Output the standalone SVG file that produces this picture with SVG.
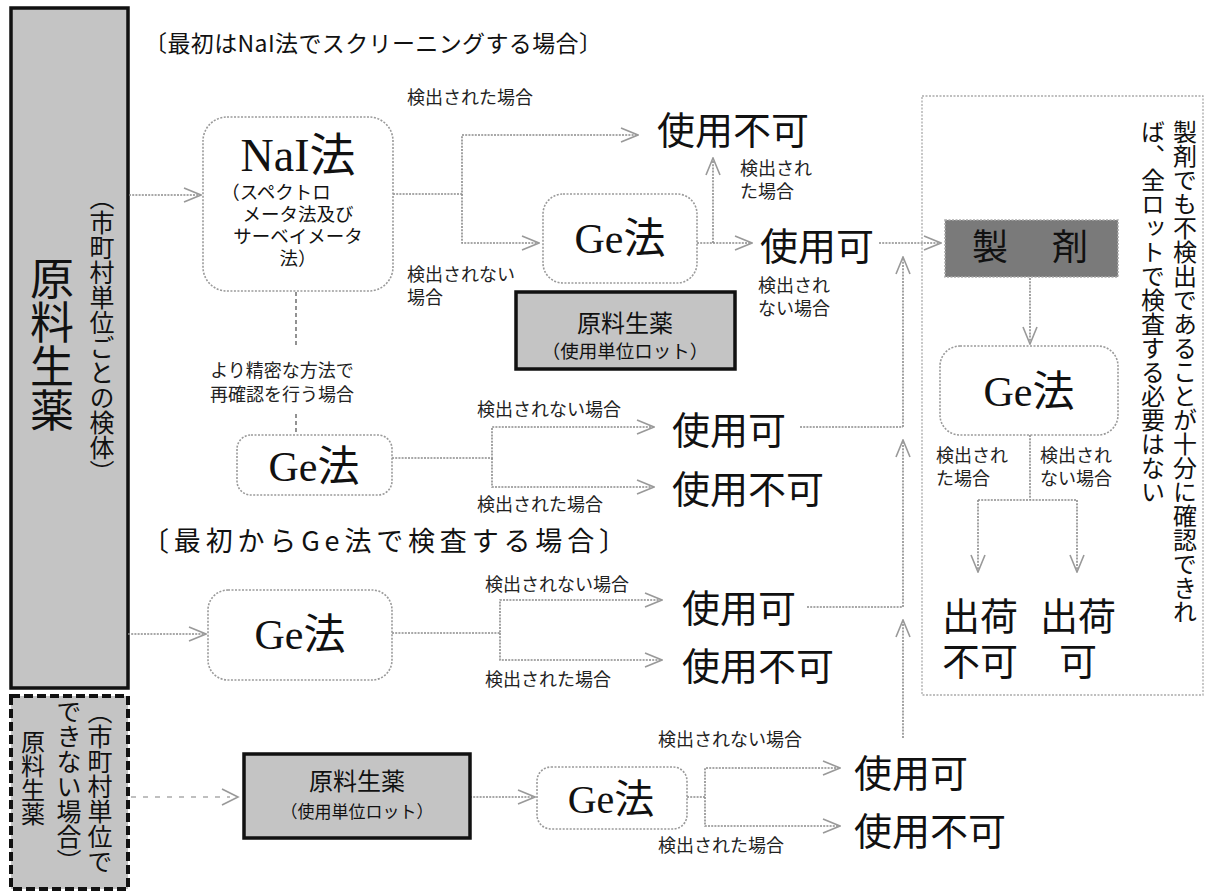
<svg xmlns="http://www.w3.org/2000/svg" width="1206" height="892" viewBox="0 0 1206 892">
<style>
.jp{font-family:"Noto Sans CJK JP","Noto Sans CJK SC",sans-serif;fill:#111}
.big{font-family:"Noto Sans CJK JP",sans-serif;font-size:38px;fill:#111}
.lbl{font-family:"Noto Sans CJK JP",sans-serif;font-size:18px;fill:#222}
.ge{font-family:"Liberation Serif","Noto Sans CJK JP",serif;fill:#111;text-anchor:middle}
.node{fill:#fff;stroke:#9a9a9a;stroke-width:1.6;stroke-dasharray:2 1.5}
.raw{fill:#c4c4c4;stroke:#111;stroke-width:3.5}
.con{fill:none;stroke:#8c8c8c;stroke-width:1.6;stroke-dasharray:2 1.2}
.vt{writing-mode:vertical-rl}
</style>
<defs>
<marker id="ah" markerUnits="userSpaceOnUse" markerWidth="20" markerHeight="18" viewBox="0 0 20 18" refX="19" refY="9" orient="auto">
<path d="M2,2 L19,9 L2,16" fill="none" stroke="#999" stroke-width="1.6"/>
</marker>
</defs>
<rect width="1206" height="892" fill="#fff"/>

<g id="titles">
<text class="jp" x="144" y="52" font-size="23" textLength="458" lengthAdjust="spacing">〔最初はNaI法でスクリーニングする場合〕</text>
<text class="jp" x="142" y="551" font-size="27" textLength="484" lengthAdjust="spacing">〔最初からGe法で検査する場合〕</text>
</g>

<g id="src-main">
<rect class="raw" x="11" y="8" width="117" height="680"/>
<text class="jp vt" x="52" y="256" font-size="44">原料生薬</text>
<text class="jp vt" x="102" y="185" font-size="25">（市町村単位ごとの検体）</text>
</g>

<g id="src-other">
<rect x="11" y="696" width="117" height="193" fill="#c4c4c4" stroke="#111" stroke-width="4" stroke-dasharray="9 4"/>
<text class="jp vt" x="100" y="699" font-size="25">（市町村単位で</text>
<text class="jp vt" x="69" y="699" font-size="25">できない場合）</text>
<text class="jp vt" x="33" y="730" font-size="24">原料生薬</text>
</g>

<g id="connectors">
<path class="con" d="M129,195 H201" marker-end="url(#ah)"/>
<path class="con" d="M393,194 H462 V135 H638" marker-end="url(#ah)"/>
<path class="con" d="M462,194 V243 H539" marker-end="url(#ah)"/>
<path class="con" d="M697,243 H752" marker-end="url(#ah)"/>
<path class="con" d="M713,243 V158" marker-end="url(#ah)"/>
<path class="con" d="M879,243 H941" marker-end="url(#ah)"/>
<path fill="none" stroke="#777" stroke-width="1.6" stroke-dasharray="4 3" d="M296,292 V348 M296,414 V434"/>
<path class="con" d="M392,458 H492 V427 H654" marker-end="url(#ah)"/>
<path class="con" d="M492,458 V487 H654" marker-end="url(#ah)"/>
<path class="con" d="M800,427 H903"/>
<path class="con" d="M128,634 H206" marker-end="url(#ah)"/>
<path class="con" d="M392,633 H500 V600 H662" marker-end="url(#ah)"/>
<path class="con" d="M500,633 V660 H662" marker-end="url(#ah)"/>
<path class="con" d="M807,607 H903"/>
<path class="con" d="M903,427 V257" marker-end="url(#ah)"/>
<path class="con" d="M903,607 V440" marker-end="url(#ah)"/>
<path class="con" d="M903,738 V620" marker-end="url(#ah)"/>
<path fill="none" stroke="#aaa" stroke-width="1.6" stroke-dasharray="5 7" d="M131,797 H230"/>
<path d="M222,789 L238,797 L222,805" fill="none" stroke="#999" stroke-width="1.6"/>
<path class="con" d="M470,797 H535" marker-end="url(#ah)"/>
<path class="con" d="M687,797 H705 V768 H840" marker-end="url(#ah)"/>
<path class="con" d="M705,797 V826 H840" marker-end="url(#ah)"/>
<path class="con" d="M1030,278 V344" marker-end="url(#ah)"/>
<path class="con" d="M1030,435 V500 M978,500 H1077"/>
<path class="con" d="M978,500 V572" marker-end="url(#ah)"/>
<path class="con" d="M1077,500 V572" marker-end="url(#ah)"/>
</g>

<g id="nai">
<rect class="node" x="203" y="117" width="190" height="174" rx="24"/>
<text class="ge" x="298" y="171" font-size="46">NaI法</text>
<text class="jp" x="276" y="199" font-size="18.5" text-anchor="middle">（スペクトロ</text>
<text class="jp" x="298" y="221" font-size="18.5" text-anchor="middle">メータ法及び</text>
<text class="jp" x="298" y="243" font-size="18.5" text-anchor="middle">サーベイメータ</text>
<text class="jp" x="298" y="265" font-size="18.5" text-anchor="middle">法）</text>
</g>

<g id="lbl-nai">
<text class="lbl" x="407" y="104">検出された場合</text>
<text class="lbl" x="407" y="281">検出されない</text>
<text class="lbl" x="407" y="304">場合</text>
</g>

<g id="ge1">
<rect class="node" x="543" y="194" width="154" height="89" rx="20"/>
<text class="ge" x="620" y="253" font-size="42">Ge法</text>
</g>

<g id="res1">
<text class="big" x="657" y="144">使用不可</text>
<text class="lbl" x="740" y="175">検出され</text>
<text class="lbl" x="740" y="198">た場合</text>
<text class="big" x="760" y="260" font-size="39">使用可</text>
<text class="lbl" x="758" y="292">検出され</text>
<text class="lbl" x="758" y="315">ない場合</text>
</g>

<g id="lot1">
<rect class="raw" x="516" y="292" width="219" height="77" stroke-width="3"/>
<text class="jp" x="625" y="332" font-size="24" text-anchor="middle" fill="#333">原料生薬</text>
<text class="jp" x="625" y="358" font-size="18.5" text-anchor="middle" fill="#333">（使用単位ロット）</text>
</g>

<g id="recheck">
<text class="lbl" x="282" y="377" text-anchor="middle" font-size="19">より精密な方法で</text>
<text class="lbl" x="282" y="401" text-anchor="middle" font-size="19">再確認を行う場合</text>
</g>

<g id="ge2">
<rect class="node" x="237" y="435" width="155" height="60" rx="14"/>
<text class="ge" x="314" y="481" font-size="42">Ge法</text>
</g>

<g id="res2">
<text class="lbl" x="477" y="416" font-size="19">検出されない場合</text>
<text class="lbl" x="477" y="511" font-size="19">検出された場合</text>
<text class="big" x="672" y="444">使用可</text>
<text class="big" x="672" y="503">使用不可</text>
</g>

<g id="ge3">
<rect class="node" x="208" y="590" width="184" height="90" rx="20"/>
<text class="ge" x="300" y="649" font-size="42">Ge法</text>
</g>

<g id="res3">
<text class="lbl" x="485" y="591" font-size="19">検出されない場合</text>
<text class="lbl" x="485" y="686" font-size="19">検出された場合</text>
<text class="big" x="682" y="622">使用可</text>
<text class="big" x="682" y="680">使用不可</text>
</g>

<g id="lot2">
<rect class="raw" x="244" y="754" width="226" height="84" stroke-width="4"/>
<text class="jp" x="357" y="790" font-size="24" text-anchor="middle" fill="#333">原料生薬</text>
<text class="jp" x="357" y="818" font-size="17" text-anchor="middle" fill="#333">（使用単位ロット）</text>
</g>

<g id="ge4">
<rect class="node" x="537" y="767" width="150" height="62" rx="14"/>
<text class="ge" x="611" y="813" font-size="40">Ge法</text>
</g>

<g id="res4">
<text class="lbl" x="658" y="746" font-size="19">検出されない場合</text>
<text class="lbl" x="658" y="852" font-size="19">検出された場合</text>
<text class="big" x="854" y="787">使用可</text>
<text class="big" x="854" y="845">使用不可</text>
</g>

<g id="panel">
<rect x="922" y="96" width="281" height="599" fill="none" stroke="#aaa" stroke-width="1.3" stroke-dasharray="2 1.5"/>
<text class="jp vt" x="1185" y="120" font-size="24">製剤でも不検出であることが十分に確認できれ</text>
<text class="jp vt" x="1153" y="120" font-size="24">ば、全ロットで検査する必要はない</text>
</g>

<g id="seizai">
<rect x="945" y="220" width="173" height="57" fill="#7a7a7a" stroke="#aaa" stroke-width="1.6" stroke-dasharray="2 1.5"/>
<text class="jp" x="972 1052" y="260" font-size="36" fill="#1a1a1a">製剤</text>
</g>

<g id="ge5">
<rect class="node" x="940" y="346" width="178" height="89" rx="20"/>
<text class="ge" x="1029" y="406" font-size="42">Ge法</text>
</g>

<g id="ship">
<text class="lbl" x="936" y="462">検出され</text>
<text class="lbl" x="936" y="485">た場合</text>
<text class="lbl" x="1040" y="462">検出され</text>
<text class="lbl" x="1040" y="485">ない場合</text>
<text class="big" x="980" y="630" text-anchor="middle">出荷</text>
<text class="big" x="980" y="675" text-anchor="middle">不可</text>
<text class="big" x="1078" y="630" text-anchor="middle">出荷</text>
<text class="big" x="1078" y="675" text-anchor="middle">可</text>
</g>
</svg>
